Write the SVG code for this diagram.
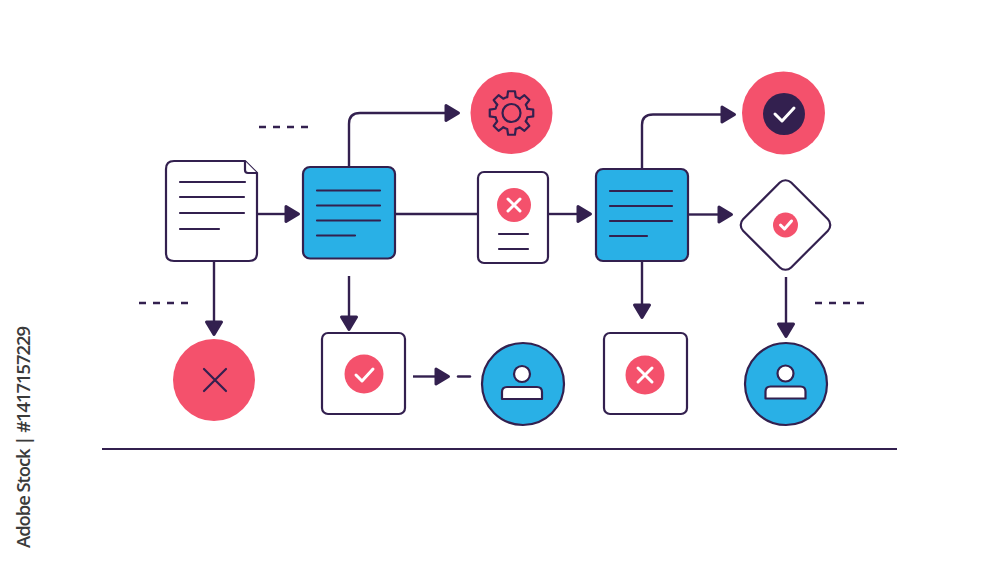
<svg xmlns="http://www.w3.org/2000/svg" xmlns:xlink="http://www.w3.org/1999/xlink" width="1000" height="563" viewBox="0 0 1000 563">
<style>
.o{fill:#fff;stroke:#33204f;stroke-width:2.2}
.b{fill:#29b0e6;stroke:#33204f;stroke-width:2.2}
.r{fill:#f4516c}
.d{fill:#33204f}
.l{fill:none;stroke:#33204f;stroke-width:2.2;stroke-linecap:round;stroke-linejoin:round}
.w{fill:none;stroke:#fff;stroke-width:3;stroke-linecap:round;stroke-linejoin:round}
.c{fill:none;stroke:#33204f;stroke-width:2.4}
.a{marker-end:url(#h)}
.t{fill:none;stroke:#33204f;stroke-width:2.5;stroke-dasharray:7 7}
</style>
<defs>
<marker id="h" markerUnits="userSpaceOnUse" viewBox="-3 -11 20 22" markerWidth="20" markerHeight="22" refX="0" refY="0" orient="auto">
<path d="M0,-7.500L12.500,0L0,7.500Z" fill="#33204f" stroke="#33204f" stroke-width="3" stroke-linejoin="round"/>
</marker>
<path id="w" d="M-4.270,-15.940L-3.440,-21.730L3.440,-21.730L4.270,-15.940A16.500,16.500 0 0 1 8.250,-14.290" class="l"/>
<g id="p">
<circle cx="0" cy="-10" r="8" fill="#fff" stroke="#33204f" stroke-width="2.200"/>
<path d="M-20,15V8Q-20,3 -15,3H15Q20,3 20,8V15Z" fill="#fff" stroke="#33204f" stroke-width="2.200" stroke-linejoin="round"/>
</g>
</defs>
<rect width="1000" height="563" fill="#fff"/>
<g id="connectors">
<path class="c a" d="M258,214H286"/>
<path class="c a" d="M349,167V124Q349,113 360,113H446"/>
<path class="c" d="M395,214H478"/>
<path class="c a" d="M548,214H578"/>
<path class="c a" d="M642,169V125Q642,114.500 653,114.500H722"/>
<path class="c a" d="M688,214.500H719"/>
<path class="c a" d="M214,261V322"/>
<path class="c a" d="M349,276V317"/>
<path class="c a" d="M413,376.500H436"/>
<path class="c" stroke-linecap="round" d="M458,376.500H470"/>
<path class="c a" d="M642,261V305"/>
<path class="c a" d="M786,277V324"/>
</g>
<g id="dashes">
<path class="t" d="M259,127H309"/>
<path class="t" d="M139,303H190"/>
<path class="t" d="M815,303H866"/>
</g>
<path id="baseline" d="M102,449H897" fill="none" stroke="#33204f" stroke-width="2"/>
<g id="doc">
<path class="o" d="M174,161H245L257,173V253Q257,261 249,261H174Q166,261 166,253V169Q166,161 174,161Z"/>
<path class="o" d="M245,161V170Q245,173 248,173H257" stroke-width="1.500"/>
<path class="l" d="M180,182H245M180,197H244M180,213H244M180,229H219"/>
</g>
<g id="process1">
<rect class="b" x="303" y="167" width="92" height="91.500" rx="7"/>
<path class="l" d="M317,190.500H380M317,205.500H380M317,220.500H380M317,235.500H355"/>
</g>
<g id="gear">
<circle class="r" cx="511.500" cy="113" r="41"/>
<g transform="translate(511.500,113)">
<use xlink:href="#w" href="#w"/>
<use xlink:href="#w" href="#w" transform="rotate(45)"/>
<use xlink:href="#w" href="#w" transform="rotate(90)"/>
<use xlink:href="#w" href="#w" transform="rotate(135)"/>
<use xlink:href="#w" href="#w" transform="rotate(180)"/>
<use xlink:href="#w" href="#w" transform="rotate(225)"/>
<use xlink:href="#w" href="#w" transform="rotate(270)"/>
<use xlink:href="#w" href="#w" transform="rotate(315)"/>
<circle class="l" r="9"/>
</g>
</g>
<g id="card">
<rect class="o" x="478" y="172" width="70" height="91" rx="6"/>
<circle class="r" cx="514" cy="205" r="17"/>
<path class="w" d="M508,199L520,211M520,199L508,211"/>
<path class="l" d="M499,234H528M499,249H528"/>
</g>
<g id="process2">
<rect class="b" x="596" y="169" width="92" height="92" rx="7"/>
<path class="l" d="M610,191H672M610,206H672M610,221H672M610,236H647"/>
</g>
<g id="done">
<circle class="r" cx="783.500" cy="113" r="41.500"/>
<circle class="d" cx="784" cy="114" r="21"/>
<path class="w" d="M775,114L782,121L794,108"/>
</g>
<g id="decision">
<rect class="o" x="751.500" y="191" width="68" height="68" rx="8" transform="rotate(45 785.500 225)"/>
<circle class="r" cx="785.500" cy="225" r="12.500"/>
<path class="w" d="M780.500,225L784.500,229L791.500,221" stroke-width="2.500"/>
</g>
<g id="reject">
<circle class="r" cx="214" cy="380" r="41"/>
<path class="l" d="M204,369L226,391M226,369L204,391" stroke-width="2.500"/>
</g>
<g id="approve">
<rect class="o" x="322" y="333" width="83" height="81" rx="6"/>
<circle class="r" cx="364" cy="374" r="19.500"/>
<path class="w" d="M356,375L362,381L373,369" stroke-width="4"/>
</g>
<g id="user1">
<circle class="b" cx="523" cy="384" r="41"/>
<use xlink:href="#p" href="#p" x="522" y="384"/>
</g>
<g id="cancel">
<rect class="o" x="604" y="333" width="83" height="81" rx="6"/>
<circle class="r" cx="645" cy="375" r="19.500"/>
<path class="w" d="M638,368L652,382M652,368L638,382"/>
</g>
<g id="user2">
<circle class="b" cx="786" cy="384" r="41"/>
<use xlink:href="#p" href="#p" x="785.500" y="383.500"/>
</g>
<text id="side" transform="translate(30,548) rotate(-90)" font-family="'Open Sans','Noto Sans',sans-serif" font-weight="600" font-size="18.500" textLength="222" fill="#3a3a3a">Adobe Stock | #1417157229</text>
</svg>
